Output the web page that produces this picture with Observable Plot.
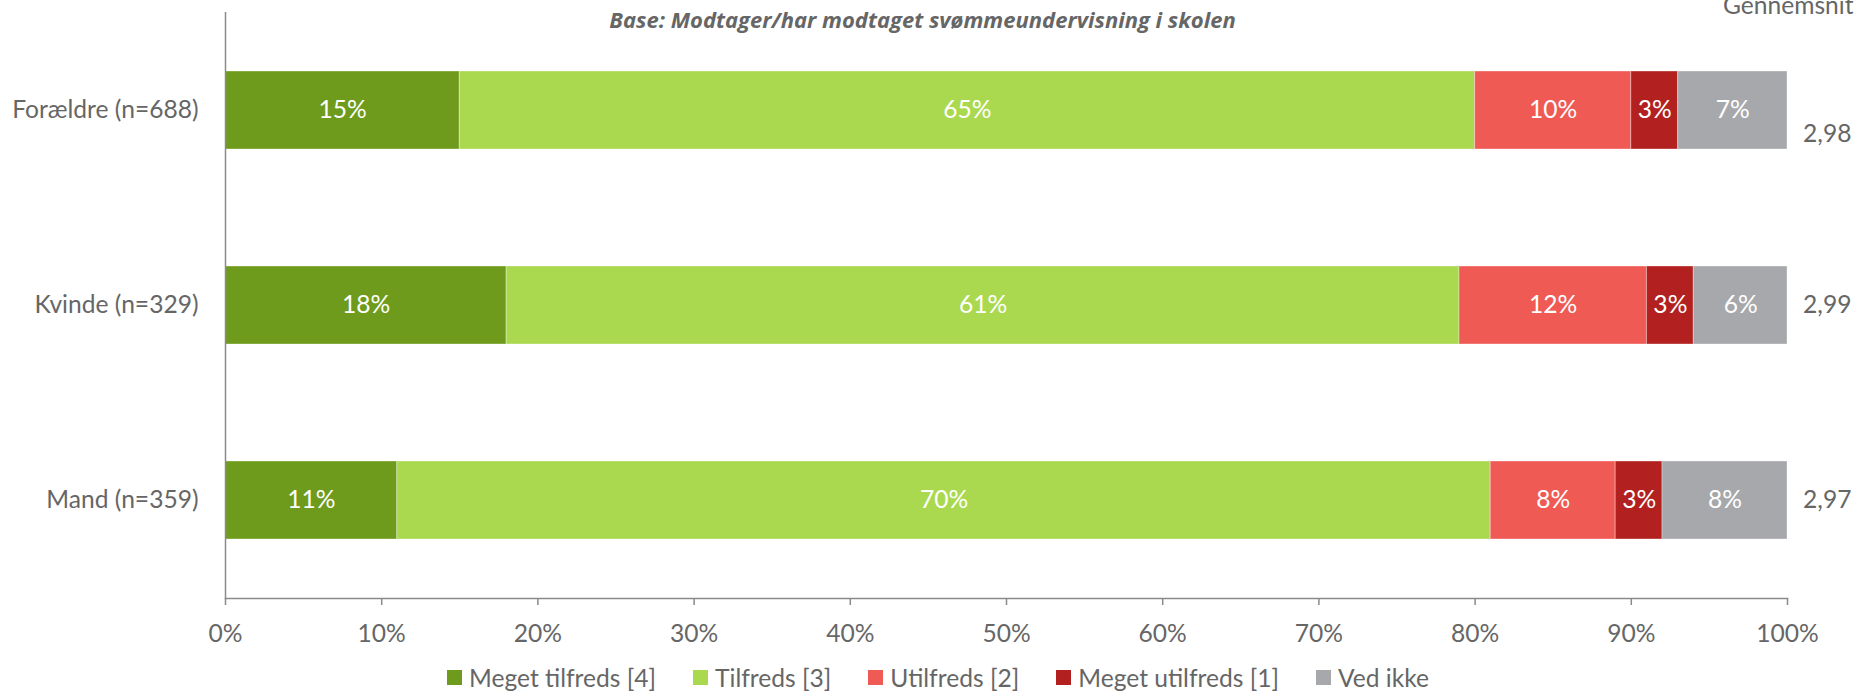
<!DOCTYPE html>
<html><head><meta charset="utf-8">
<script src="https://cdn.jsdelivr.net/npm/d3@7"></script>
<script src="https://cdn.jsdelivr.net/npm/@observablehq/plot@0.6"></script>
<style>
body{margin:0;background:#fff;}
#wrap{position:relative;width:1856px;height:692px;overflow:hidden;font-family:Lato,sans-serif;}
#legend{position:absolute;left:447px;top:665px;height:25px;display:flex;align-items:center;font-size:24.6px;line-height:25px;color:#666;white-space:nowrap;}
.item{display:flex;align-items:center;margin-right:37px;height:25px;}
.sw{width:15px;height:15px;margin-right:7px;}
</style></head><body><div id="wrap"></div>
<script>
const categories = ["Forældre (n=688)", "Kvinde (n=329)", "Mand (n=359)"];
const series = ["Meget tilfreds [4]", "Tilfreds [3]", "Utilfreds [2]", "Meget utilfreds [1]", "Ved ikke"];
const colors = ["#6e9b1b", "#aad94f", "#f05a55", "#b2211f", "#a7a8ab"];
const megetTilfreds = [15, 18, 11];
const tilfreds = [65, 61, 70];
const utilfreds = [10, 12, 8];
const megetUtilfreds = [3, 3, 3];
const vedIkke = [7, 6, 8];
const averages = ["2,98", "2,99", "2,97"];
const xTicks = [0, 10, 20, 30, 40, 50, 60, 70, 80, 90, 100];
const subtitle = "Base: Modtager/har modtaget svømmeundervisning i skolen";
const avgTitle = "Gennemsnit";

const seriesValues = [megetTilfreds, tilfreds, utilfreds, megetUtilfreds, vedIkke];
const rows = [];
categories.forEach((c, ci) => series.forEach((s, si) => rows.push({cat: c, series: s, value: seriesValues[si][ci]})));
const avgRows = categories.map((c, i) => ({cat: c, avg: averages[i], i}));

const gray = "#666";
const axisGray = "#8a8a8a";

const chart = Plot.plot({
  width: 1856, height: 650,
  marginLeft: 225, marginRight: 69, marginTop: 12, marginBottom: 52,
  style: {fontFamily: "Lato, sans-serif", fontSize: "24.6px", color: gray, background: "transparent", overflow: "visible"},
  x: {domain: [0, 100], label: null},
  y: {domain: categories, paddingInner: 0.6, paddingOuter: 0.3, label: null},
  color: {domain: series, range: colors},
  marks: [
    Plot.barX(rows, {x: "value", y: "cat", fill: "series", order: null, stroke: "#fff", strokeOpacity: 0.35, strokeWidth: 1}),
    Plot.text(rows, Plot.stackX({x: "value", y: "cat", z: "series", order: null, text: d => d.value + "%", fill: "white", fontSize: 24.6})),
    Plot.axisX({ticks: xTicks, tickFormat: d => d + "%", tickSize: 7, tickPadding: 19, stroke: axisGray, fill: gray, strokeWidth: 1.5, label: null}),
    Plot.axisY({tickSize: 0, tickPadding: 27, fill: gray, label: null}),
    Plot.ruleX([0], {stroke: axisGray, strokeWidth: 1.5}),
    Plot.frame({anchor: "bottom", stroke: axisGray, strokeWidth: 1.5}),
    Plot.text(avgRows, {filter: d => d.i === 0, y: "cat", text: "avg", frameAnchor: "right", dx: 64, dy: 24, textAnchor: "end", fill: gray}),
    Plot.text(avgRows, {filter: d => d.i > 0, y: "cat", text: "avg", frameAnchor: "right", dx: 64, textAnchor: "end", fill: gray}),
    Plot.text([avgTitle], {text: d => d, frameAnchor: "top-right", dx: 66, dy: 1, lineAnchor: "bottom", textAnchor: "end", fill: gray}),
    Plot.text([subtitle], {text: d => d, frameAnchor: "top", dx: -84, dy: 15, lineAnchor: "bottom", fill: gray, fontFamily: "Open Sans", fontWeight: "bold", fontStyle: "italic", fontSize: 22})
  ]
});
const wrap = document.getElementById("wrap");
wrap.appendChild(chart);
const legend = document.createElement("div");
legend.id = "legend";
series.forEach((s, i) => {
  const it = document.createElement("div");
  it.className = "item";
  const sw = document.createElement("span");
  sw.className = "sw";
  sw.style.background = colors[i];
  const tx = document.createElement("span");
  tx.textContent = s;
  it.appendChild(sw); it.appendChild(tx);
  legend.appendChild(it);
});
wrap.appendChild(legend);
</script></body></html>
